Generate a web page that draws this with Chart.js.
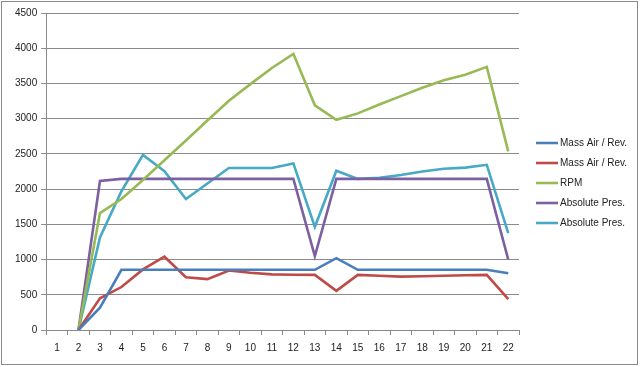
<!DOCTYPE html>
<html>
<head>
<meta charset="utf-8">
<script src="https://cdn.jsdelivr.net/npm/chart.js@4"></script>
<style>
  html,body{margin:0;padding:0;background:#fff;}
  #wrap{width:640px;height:367px;position:relative;}
</style>
</head>
<body>
<div id="wrap"><canvas id="c" width="640" height="367"></canvas></div>
<script>
const categories = ['1','2','3','4','5','6','7','8','9','10','11','12','13','14','15','16','17','18','19','20','21','22'];
const massAirA = [null,0,318,855,855,855,855,855,855,855,855,855,855,1020,855,855,855,855,855,855,855,805];
const massAirB = [null,0,450,610,860,1040,748,722,845,812,790,785,783,555,783,770,757,762,770,778,783,437];
const rpm      = [null,0,1660,1860,2130,2410,2690,2975,3255,3490,3720,3920,3190,2985,3075,3200,3320,3440,3545,3625,3735,2535];
const absPresA = [null,0,2115,2145,2145,2145,2145,2145,2145,2145,2145,2145,1050,2145,2145,2145,2145,2145,2145,2145,2145,1000];
const absPresB = [null,0,1315,1970,2485,2255,1860,2080,2300,2300,2300,2365,1465,2260,2145,2160,2200,2250,2290,2305,2345,1375];
const yTicks = [0,500,1000,1500,2000,2500,3000,3500,4000,4500];

const FONT = '"Liberation Sans", Arial, sans-serif';
const ds = (label, data, color) => ({label, data, borderColor: color, backgroundColor: color,
  borderWidth: 2.6, pointRadius: 0, tension: 0, fill: false});

// outer frame + legend at the right
const framePlugin = {
  id: 'frame',
  beforeDraw(chart){
    const ctx = chart.ctx;
    ctx.save();
    ctx.fillStyle = '#fff'; ctx.fillRect(0,0,chart.width,chart.height);
    ctx.strokeStyle = '#8a8a8a'; ctx.lineWidth = 1;
    ctx.strokeRect(1.5,1.5,636,363);
    ctx.restore();
  },
  afterDraw(chart){
    const ctx = chart.ctx;
    ctx.save();
    ctx.font = '10px ' + FONT;
    ctx.textBaseline = 'middle';
    chart.data.datasets.forEach((d,i)=>{
      const y = 143 + i*20;
      ctx.strokeStyle = d.borderColor; ctx.lineWidth = 2.6;
      ctx.beginPath(); ctx.moveTo(536,y); ctx.lineTo(558,y); ctx.stroke();
      ctx.fillStyle = '#222';
      ctx.fillText(d.label, 560, y);
    });
    ctx.restore();
  }
};

new Chart(document.getElementById('c').getContext('2d'), {
  type: 'line',
  data: {
    labels: categories,
    datasets: [
      ds('Mass Air / Rev.', massAirA, '#4a7ebb'),
      ds('Mass Air / Rev.', massAirB, '#be4b48'),
      ds('RPM', rpm, '#98b954'),
      ds('Absolute Pres.', absPresA, '#7d60a0'),
      ds('Absolute Pres.', absPresB, '#46aac5')
    ]
  },
  options: {
    responsive: false,
    animation: false,
    layout: {padding: {left: 11, right: 121, top: 13, bottom: 6}},
    plugins: {legend: {display: false}, tooltip: {enabled: false}},
    scales: {
      x: {
        offset: true,
        grid: {display: true, offset: true, drawOnChartArea: false, drawTicks: true, tickLength: 5, color: '#8a8a8a'},
        border: {color: '#8a8a8a'},
        ticks: {font: {family: FONT, size: 10}, color: '#222', padding: 7, maxRotation: 0, autoSkip: false}
      },
      y: {
        min: 0, max: 4500,
        afterBuildTicks: s => { s.ticks = yTicks.map(v => ({value: v})); },
        grid: {color: '#8a8a8a', tickLength: 5},
        border: {color: '#8a8a8a'},
        ticks: {font: {family: FONT, size: 10}, color: '#222', padding: 4, callback: v => String(v)}
      }
    }
  },
  plugins: [framePlugin]
});
</script>
</body>
</html>
